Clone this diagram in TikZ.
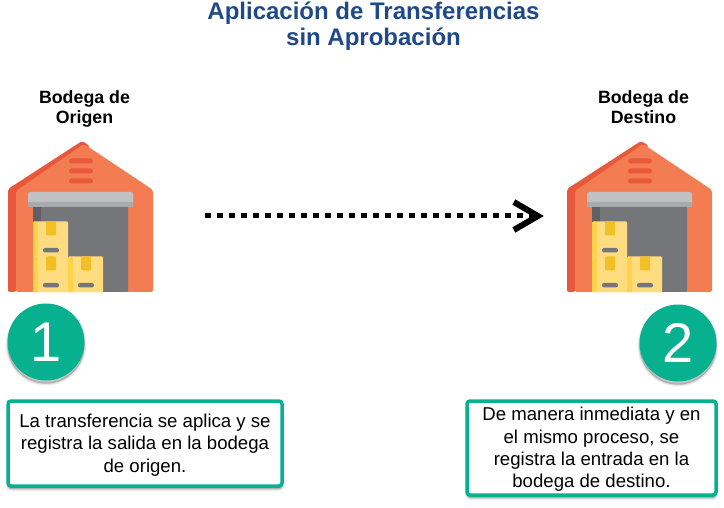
\documentclass[tikz,border=0pt]{standalone}
\usepackage{fontspec}
\setmainfont{Liberation Sans}
\usetikzlibrary{arrows.meta}
\definecolor{titleblue}{HTML}{1F4A87}
\definecolor{teal}{HTML}{07B08F}
\definecolor{wallorange}{HTML}{F37C52}
\definecolor{walldark}{HTML}{E8593C}
\definecolor{doorgray}{HTML}{757679}
\definecolor{doordark}{HTML}{5F6064}
\definecolor{barlight}{HTML}{BFC1C3}
\definecolor{bardark}{HTML}{A8AAAD}
\definecolor{boxyellow}{HTML}{FFDC80}
\definecolor{boxdark}{HTML}{FFD24A}
\definecolor{tapeyellow}{HTML}{F2C024}
\newcommand{\bajar}{\rule{0pt}{16.5pt}}
\tikzset{
	soft/.style={preaction={draw=black,fill=black,opacity=.055,line width=#1,transform canvas={yshift=-3pt}}},
	sombra/.style={soft=4pt,soft=2.5pt,soft=1pt,soft=.1pt},
	numero/.style={circle,sombra,fill=teal,text=white,minimum size=77pt,inner sep=0pt,
		font=\fontsize{56}{56}\selectfont},
	nota/.style={sombra,draw=teal,line width=3.5pt,rounded corners=3pt,fill=white,align=center,
		inner sep=0pt,font=\fontsize{18.6}{22.3}\selectfont},
	bodeganame/.style={align=center,font=\fontsize{17.8}{20}\selectfont\bfseries},
	hueco/.style={minimum width=146pt,minimum height=152pt,inner sep=0pt},
	caja/.pic={
		\fill[boxyellow,rounded corners=1pt] (0,0) rectangle (35,36);
		\fill[boxdark] (0,0.5) rectangle (5,36);
		\fill[tapeyellow,rounded corners=1pt] (13,0) rectangle (23,14);
		\fill[doorgray,rounded corners=2pt] (10,26.5) rectangle (26,31);
	},
	bodega/.pic={
		% walls
		\fill[walldark,rounded corners=2pt] (8,292) -- (8,189) -- (82,141) -- (90,146) -- (16,292) -- cycle;
		\fill[wallorange,rounded corners=2pt] (16,292) -- (16,191) -- (84,144) -- (153,190) -- (153,292) -- cycle;
		% vents
		\foreach \y in {161,171,181}
			\fill[walldark,rounded corners=2.5pt] (69,\y-2.5) rectangle (93,\y+2.5);
		% door
		\fill[doorgray,rounded corners=1pt] (33,205) rectangle (128,292);
		\fill[doordark] (33,205) rectangle (41,222);
		\fill[barlight,rounded corners=2pt] (28,192) rectangle (133,207);
		\fill[bardark,rounded corners=1pt] (28,202) rectangle (133,207);
		% boxes
		\pic at (33,221.5) {caja};
		\pic at (33,256.5) {caja};
		\pic at (68,256.5) {caja};
	}
}

\begin{document}
\begin{tikzpicture}[x=1pt,y=-1pt]
	\useasboundingbox (0,0) rectangle (724,508);
	% title
	\node[text=titleblue,align=center,font=\fontsize{24}{26}\selectfont\bfseries] (titulo) at (373.5,26.5)
		{Aplicación de Transferencias\\sin Aprobación};
	% warehouses
	\pic at (0,0) {bodega};
	\pic at (559,0) {bodega};
	\node[hueco] (origen) at (81,216) {};
	\node[hueco] (destino) at (640,216) {};
	\node[bodeganame] (nomorigen) at (84.5,108.5) {Bodega de\\Origen};
	\node[bodeganame] (nomdestino) at (643.5,107.5) {Bodega de\\Destino};
	% arrow
	\draw[line width=5pt,dash pattern=on 6pt off 6pt,-{Straight Barb[length=24pt,width=28pt,line width=6pt]},
		shorten <=51pt,shorten >=23pt] (origen) -- (destino);
	% numbers
	\node[numero] (uno) at (46,342) {1};
	\node[numero] (dos) at (678,343) {2};
	% notes
	\node[nota,minimum width=274pt,minimum height=85pt] (notauno) at (145,443.5)
		{\bajar La transferencia se aplica y se\\registra la salida en la bodega\\de origen.};
	\node[nota,minimum width=249pt,minimum height=94pt] (notados) at (591.5,448)
		{\bajar De manera inmediata y en\\el mismo proceso, se\\registra la entrada en la\\bodega de destino.};
\end{tikzpicture}
\end{document}
